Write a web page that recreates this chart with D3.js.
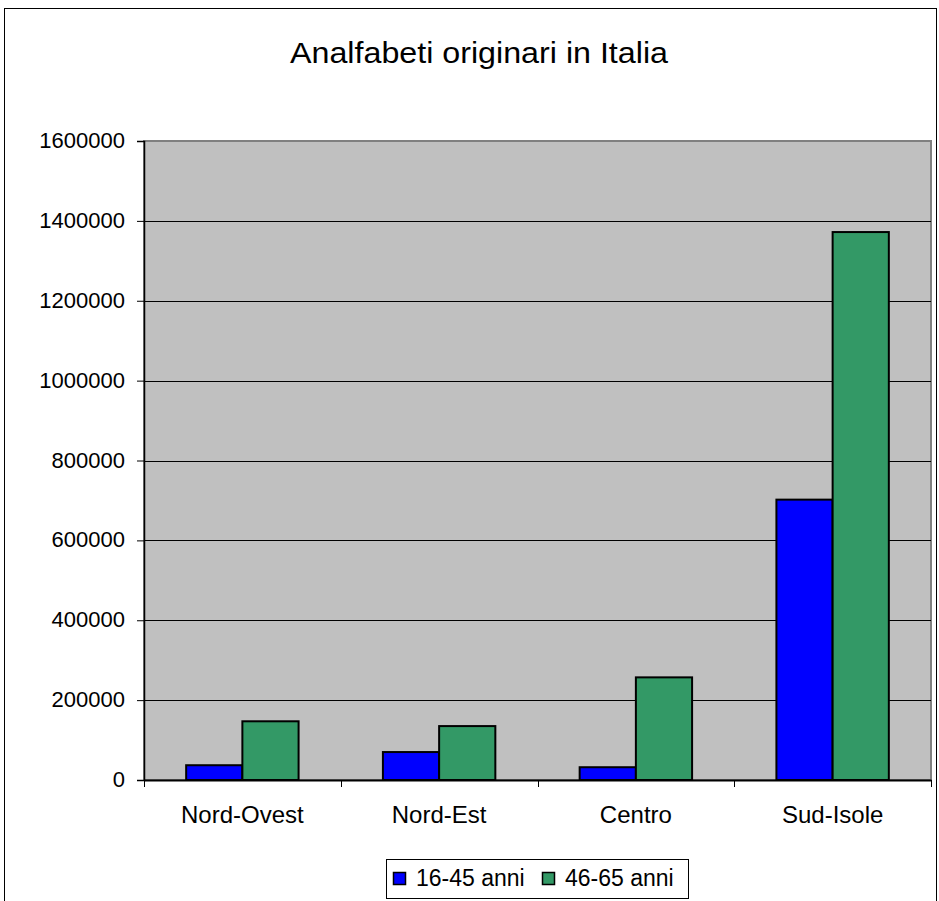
<!DOCTYPE html>
<html><head><meta charset="utf-8">
<script src="https://cdn.jsdelivr.net/npm/d3@7"></script>
<style>body{margin:0;background:#fff}svg{display:block}text{font-family:"Liberation Sans",Arial,sans-serif}</style>
</head><body>
<script>
const categories = ["Nord-Ovest", "Nord-Est", "Centro", "Sud-Isole"];
const seriesNames = ["16-45 anni", "46-65 anni"];
const values1645 = [37000, 70000, 32000, 702000];
const values4665 = [147000, 135000, 257000, 1372000];
const yTicks = [0, 200000, 400000, 600000, 800000, 1000000, 1200000, 1400000, 1600000];
const colors = ["#0000ff", "#339966"];

const W = 939, H = 901;
const svg = d3.select("body").append("svg").attr("width", W).attr("height", H);
// outer frame
svg.append("rect").attr("x", 4.5).attr("y", 8.5).attr("width", 932).attr("height", 900)
  .attr("fill", "#fff").attr("stroke", "#000").attr("stroke-width", 1);

const L = 144, R = 931, T = 141, B = 780;
const x = d3.scaleBand().domain(categories).range([L, R]).paddingInner(0).paddingOuter(0);
const y = d3.scaleLinear().domain([0, 1600000]).range([B, T]);
const xs = d3.scaleBand().domain(seriesNames).range([0, x.bandwidth()]).paddingInner(0).paddingOuter(0.75);

svg.append("rect").attr("x", L).attr("y", T).attr("width", R - L).attr("height", B - T)
  .attr("fill", "#c0c0c0").attr("stroke", "#808080").attr("stroke-width", 2);

// gridlines
svg.append("g").selectAll("line").data(yTicks.filter(d => d > 0 && d < 1600000)).join("line")
  .attr("x1", L).attr("x2", R).attr("y1", d => Math.round(y(d)) + 0.5).attr("y2", d => Math.round(y(d)) + 0.5)
  .attr("stroke", "#000").attr("stroke-width", 1);

const data = categories.map((c, i) => ({c, vals: [values1645[i], values4665[i]]}));
const g = svg.append("g").selectAll("g").data(data).join("g")
  .attr("transform", d => `translate(${x(d.c)},0)`);
g.selectAll("rect").data(d => d.vals.map((v, j) => ({v, s: seriesNames[j], j}))).join("rect")
  .attr("x", d => xs(d.s)).attr("width", xs.bandwidth())
  .attr("y", d => y(d.v)).attr("height", d => B - y(d.v))
  .attr("fill", d => colors[d.j]).attr("stroke", "#000").attr("stroke-width", 2);

// y axis
const yAxis = d3.axisLeft(y).tickValues(yTicks).tickSize(7).tickPadding(12).tickFormat(d3.format("d"));
const ya = svg.append("g").attr("transform", `translate(${L},0)`).call(yAxis);
ya.select(".domain").attr("stroke", "#000").attr("stroke-width", 1.5);
ya.selectAll(".tick line").attr("stroke", "#000");
ya.selectAll("text").attr("font-size", 22).attr("fill", "#000").attr("dy", "0.3em");

// x axis
const xAxis = d3.axisBottom(x).tickSize(0).tickPadding(26);
const xa = svg.append("g").attr("transform", `translate(0,${B})`).call(xAxis);
xa.select(".domain").attr("stroke", "#000").attr("stroke-width", 2);
xa.selectAll("text").attr("font-size", 24).attr("fill", "#000").attr("dy", "0.71em");
// category separators ticks
svg.append("g").selectAll("line").data(categories.map(c => x(c)).concat([R])).join("line")
  .attr("x1", d => Math.round(d) + 0.5).attr("x2", d => Math.round(d) + 0.5)
  .attr("y1", B).attr("y2", B + 7).attr("stroke", "#000");

// title
svg.append("text").attr("x", 479).attr("y", 63).attr("text-anchor", "middle")
  .attr("font-size", 30).attr("textLength", 378).attr("lengthAdjust", "spacingAndGlyphs")
  .attr("fill", "#000").text("Analfabeti originari in Italia");

// legend
const lg = svg.append("g");
lg.append("rect").attr("x", 386.5).attr("y", 859.5).attr("width", 302).attr("height", 39)
  .attr("fill", "#fff").attr("stroke", "#000");
const lx = [393, 542];
seriesNames.forEach((s, i) => {
  lg.append("rect").attr("x", lx[i] + 0.5).attr("y", 872.5).attr("width", 12).attr("height", 12)
    .attr("fill", colors[i]).attr("stroke", "#000").attr("stroke-width", 1.5);
  lg.append("text").attr("x", lx[i] + 23).attr("y", 886).attr("font-size", 23).attr("fill", "#000").text(s);
});
</script>
</body></html>
